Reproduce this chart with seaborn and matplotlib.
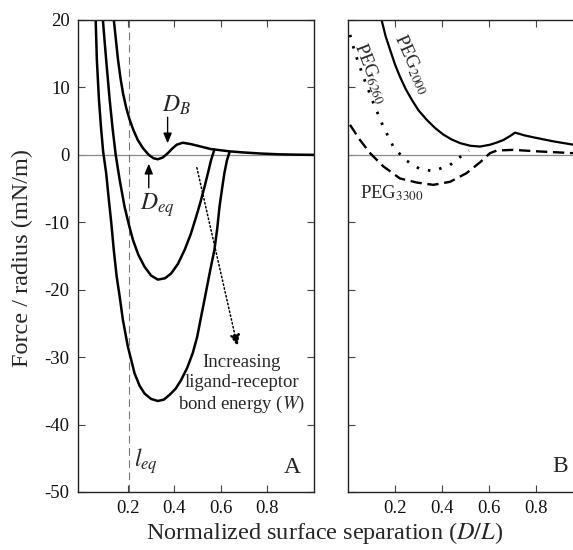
import numpy as np
import matplotlib
matplotlib.use('Agg')
import matplotlib.pyplot as plt
import seaborn as sns

# Panel A: force curves for three bond energies
a_x_low = [0.140, 0.149, 0.158, 0.168, 0.179, 0.193, 0.208, 0.225, 0.243, 0.265, 0.290, 0.310, 0.329,
           0.350, 0.372, 0.390, 0.410, 0.436, 0.470, 0.500, 0.558, 0.644, 0.700, 0.770, 0.850,
           0.920, 1.000]
a_y_low = [20.0, 17.0, 14.1, 11.5, 9.2, 7.0, 5.2, 3.6, 2.2, 1.0, 0.0, -0.5, -0.65,
           -0.4, 0.25, 0.9, 1.5, 1.8, 1.6, 1.35, 0.85, 0.5, 0.35, 0.2, 0.08,
           0.03, 0.0]

a_x_mid = [0.093, 0.100, 0.107, 0.122, 0.135, 0.148, 0.165, 0.186, 0.205, 0.222, 0.245, 0.272, 0.300,
           0.329, 0.360, 0.386, 0.415, 0.444, 0.470, 0.494, 0.513, 0.530, 0.545, 0.558, 0.572]
a_y_mid = [20.0, 17.0, 14.1, 8.2, 3.8, 0.0, -3.7, -7.7, -10.4, -12.6, -14.8, -16.6, -17.9,
           -18.5, -18.3, -17.6, -16.2, -14.1, -11.8, -9.15, -6.9, -4.7, -2.6, -0.74, 0.8]

a_x_high = [0.062, 0.067, 0.076, 0.085, 0.094, 0.107, 0.118, 0.129, 0.140, 0.152, 0.165, 0.179, 0.200,
            0.229, 0.250, 0.272, 0.300, 0.329, 0.355, 0.379, 0.405, 0.429, 0.455, 0.479, 0.498,
            0.515, 0.535, 0.553, 0.572, 0.584, 0.594, 0.605, 0.615, 0.626, 0.637]
a_y_high = [20.0, 14.1, 8.2, 4.0, 0.5, -2.7, -6.5, -10.1, -14.2, -18.0, -21.0, -24.5, -28.4,
            -32.4, -34.2, -35.4, -36.2, -36.5, -36.3, -35.6, -34.7, -33.4, -31.6, -29.4, -27.0,
            -24.0, -20.5, -17.3, -14.1, -11.0, -7.7, -5.0, -2.7, -0.8, 0.4]

# Panel B: PEG curves
b_x_2000 = [0.143, 0.160, 0.179, 0.200, 0.221, 0.245, 0.271, 0.300, 0.335, 0.370, 0.406, 0.440,
            0.477, 0.520, 0.562, 0.604, 0.635, 0.661, 0.690, 0.711, 0.750, 0.789, 0.874, 0.960, 1.000]
b_y_2000 = [20.0, 17.6, 15.6, 13.4, 11.6, 9.8, 8.2, 6.6, 5.2, 4.0, 3.0, 2.3,
            1.74, 1.35, 1.23, 1.5, 1.85, 2.2, 2.8, 3.3, 2.9, 2.6, 2.0, 1.5, 1.3]

b_x_6260 = [0.0085, 0.030, 0.065, 0.108, 0.150, 0.193, 0.243, 0.306, 0.363, 0.434, 0.498, 0.515]
b_y_6260 = [17.8, 15.1, 11.6, 7.7, 4.2, 1.2, -0.74, -2.1, -2.4, -1.5, 0.25, 0.6]

b_x_3300 = [0.0085, 0.051, 0.094, 0.150, 0.221, 0.292, 0.363, 0.434, 0.505, 0.562, 0.604, 0.633,
            0.703, 0.817, 0.959, 1.000]
b_y_3300 = [4.45, 2.2, 0.25, -1.7, -3.5, -4.1, -4.45, -4.0, -2.7, -1.1, 0.25, 0.64,
            0.74, 0.5, 0.25, 0.2]

x_ticks = [0.2, 0.4, 0.6, 0.8]
y_ticks = [20, 10, 0, -10, -20, -30, -40, -50]
l_eq = 0.203

sns.set_style('ticks')
plt.rcParams['font.family'] = ['Liberation Serif', 'DejaVu Serif']
plt.rcParams['mathtext.fontset'] = 'stix'
plt.rcParams['axes.unicode_minus'] = False

fig = plt.figure(figsize=(5.73, 5.5), dpi=100)
W, H = 573, 550
axA = fig.add_axes([78 / W, 58 / H, 236 / W, 472 / H])
axB = fig.add_axes([348 / W, 58 / H, 235 / W, 472 / H])

for ax in (axA, axB):
    ax.axhline(0, color='#8a8a8a', lw=0.9, zorder=1)
    ax.set_ylim(-50, 20)
    ax.set_xticks(x_ticks)
    ax.set_xticklabels([f'{t:.1f}' for t in x_ticks])
    ax.set_yticks(y_ticks)
    ax.tick_params(direction='in', length=5, width=0.8, color='#444444', labelsize=13.5,
                   labelcolor='#111111', top=True, right=True, pad=6)
    for s in ax.spines.values():
        s.set_color('#222222')
        s.set_linewidth(1.0)
    ax.set_xlabel('')
    ax.set_ylabel('')

axA.set_xlim(-0.014, 1.0)
axB.set_xlim(0, 1.0)
axB.tick_params(labelleft=False)

# panel A curves
axA.axvline(l_eq, color='#777777', lw=0.8, ls=(0, (7, 4)), zorder=1)
for xs, ys in [(a_x_low, a_y_low), (a_x_mid, a_y_mid), (a_x_high, a_y_high)]:
    sns.lineplot(x=xs, y=ys, ax=axA, color='black', lw=1.8, sort=False, estimator=None)

# panel B curves
sns.lineplot(x=b_x_2000, y=b_y_2000, ax=axB, color='black', lw=1.6, sort=False, estimator=None)
sns.lineplot(x=b_x_6260, y=b_y_6260, ax=axB, color='black', lw=2.0, sort=False, estimator=None,
             linestyle=(0, (0.9, 3.3)))
sns.lineplot(x=b_x_3300, y=b_y_3300, ax=axB, color='black', lw=1.7, sort=False, estimator=None,
             linestyle=(0, (4.8, 2.4)))

# annotations panel A
arrow_kw = dict(arrowstyle='-|>,head_length=0.6,head_width=0.25', color='black', lw=1.0)
axA.annotate('', xy=(0.371, 1.3), xytext=(0.371, 6.0), arrowprops=arrow_kw)
axA.text(0.41, 7.4, '$D_B$', fontsize=17, ha='center', va='center')
axA.annotate('', xy=(0.290, -0.9), xytext=(0.290, -5.3), arrowprops=arrow_kw)
axA.text(0.325, -7.4, '$D_{eq}$', fontsize=17, ha='center', va='center')
axA.text(0.28, -45.4, '$l_{eq}$', fontsize=17, ha='center', va='center')
axA.text(0.906, -46.4, 'A', fontsize=17, ha='center', va='center')
axA.annotate('', xy=(0.674, -28.8), xytext=(0.494, -1.5),
             arrowprops=dict(arrowstyle='-|>,head_length=0.7,head_width=0.3', color='black',
                             lw=1.1, ls=(0, (1, 1.6))))
axA.text(0.69, -34.1, 'Increasing\nligand-receptor\nbond energy ($W$)', fontsize=13.5,
         ha='center', va='center', linespacing=1.2)

# annotations panel B
axB.text(0.271, 13.4, 'PEG$_{2000}$', fontsize=13.5, rotation=-66, ha='center', va='center',
         rotation_mode='anchor')
axB.text(0.096, 12.1, 'PEG$_{6260}$', fontsize=13.5, rotation=-69, ha='center', va='center',
         rotation_mode='anchor')
axB.text(0.186, -5.7, 'PEG$_{3300}$', fontsize=13.5, ha='center', va='center')
axB.text(0.904, -46.2, 'B', fontsize=17, ha='center', va='center')

fig.text(325 / W, 1 - 533 / H, 'Normalized surface separation ($D/L$)', fontsize=17.5,
         ha='center', va='center')
fig.text(22 / W, 1 - 258 / H, 'Force / radius (mN/m)', fontsize=17.5, rotation=90,
         ha='center', va='center')

fig.savefig('out.png', dpi=100)
